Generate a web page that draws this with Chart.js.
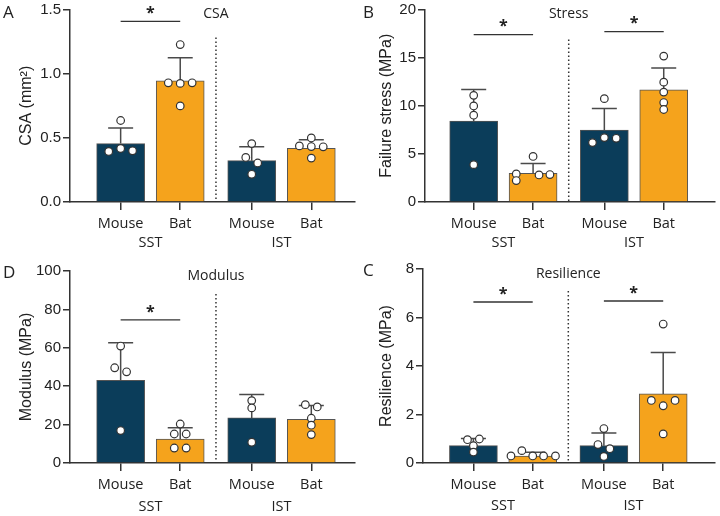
<!DOCTYPE html>
<html>
<head>
<meta charset="utf-8">
<script src="https://cdn.jsdelivr.net/npm/chart.js@4.4.0/dist/chart.umd.min.js"></script>
<style>
html, body { margin: 0; padding: 0; background: #fff; }
#wrap { position: relative; width: 720px; height: 516px; }
.panel { position: absolute; width: 360px; height: 258px; }
</style>
</head>
<body>
<div id="wrap">
  <div class="panel" style="left:0;top:0"><canvas id="cA" width="360" height="258"></canvas></div>
  <div class="panel" style="left:360px;top:0"><canvas id="cB" width="360" height="258"></canvas></div>
  <div class="panel" style="left:0;top:258px"><canvas id="cD" width="360" height="258"></canvas></div>
  <div class="panel" style="left:360px;top:258px"><canvas id="cC" width="360" height="258"></canvas></div>
</div>
<script>
// categories
const groups = ["Mouse", "Bat", "Mouse", "Bat"];
const sites = ["SST", "IST"];
const barColors = ["#0b3d5a", "#f5a31c", "#0b3d5a", "#f5a31c"];

// A: cross-sectional area (mm²)
const csaMean = [0.455, 0.944, 0.322, 0.419];
const csaSd = [0.121, 0.180, 0.108, 0.067];
const csaPoints = [
    [0.635, 0.394, 0.417, 0.399],
    [1.227, 0.929, 0.924, 0.929, 0.749],
    [0.455, 0.347, 0.304, 0.216],
    [0.499, 0.437, 0.432, 0.430, 0.342]
];

// B: failure stress (MPa)
const stressMean = [8.40, 2.98, 7.48, 11.66];
const stressSd = [3.30, 1.03, 2.23, 2.27];
const stressPoints = [
    [11.08, 9.98, 9.02, 3.88],
    [4.73, 2.92, 2.23, 2.81, 2.85],
    [10.74, 6.17, 6.69, 6.62],
    [15.16, 12.45, 11.42, 10.33, 9.61]
];

// D: modulus (MPa)
const modMean = [43.1, 12.5, 23.5, 22.8];
const modSd = [19.5, 5.8, 12.2, 7.1];
const modPoints = [
    [60.9, 49.6, 47.5, 16.9],
    [20.3, 15.1, 15.1, 7.8, 7.8],
    [32.5, 28.7, 10.8],
    [30.4, 29.2, 23.3, 19.7, 14.8]
];

// C: resilience (MPa)
const resMean = [0.715, 0.29, 0.715, 2.85];
const resSd = [0.30, 0.15, 0.525, 1.71];
const resPoints = [
    [0.96, 0.99, 0.715, 0.45],
    [0.51, 0.29, 0.29, 0.29, 0.29],
    [1.42, 0.76, 0.59, 0.27],
    [5.73, 2.58, 2.36, 2.58, 1.20]
];

// layout: bar centres on a linear x axis, dot jitter in px
const xPos = [1, 2, 3.2, 4.2];
const sepX = 2.6;
const pxPerUnit = 60;

const panels = [
    {
        id: "cA", letter: "A", title: "CSA", yTitle: "CSA (mm²)",
        mean: csaMean, sd: csaSd, pts: csaPoints, max: 1.5, step: 0.5, dec: 1,
        sig: [[0, 1, 1.408]],
        jit: [[0, -12, 0, 12], [0, -12, 0, 12, 0], [0, -6, 6, 0], [0, -12, 0, 12, 0]],
        area: { left: 70, top: 7, right: 357, bottom: 202 }, xMin: 0.15, xMax: 4.93,
        sepTop: 28, siteGap: 41, letterPos: [3, 13]
    },
    {
        id: "cB", letter: "B", title: "Stress", yTitle: "Failure stress (MPa)",
        mean: stressMean, sd: stressSd, pts: stressPoints, max: 20, step: 5, dec: 0,
        sig: [[0, 1, 17.4], [2, 3, 17.7]],
        jit: [[0, 0, 0, 0], [0, -17, -17, 6, 17], [0, -12, 0, 12], [0, 0, 0, 0, 0]],
        area: { left: 65, top: 7, right: 358, bottom: 202 }, xMin: 0.18, xMax: 5.06,
        sepTop: 30, siteGap: 41, letterPos: [3, 13]
    },
    {
        id: "cD", letter: "D", title: "Modulus", yTitle: "Modulus (MPa)",
        mean: modMean, sd: modSd, pts: modPoints, max: 100, step: 20, dec: 0,
        sig: [[0, 1, 74.5]],
        jit: [[0, -6, 6, 0], [0, -6, 6, -6, 6], [0, 0, 0], [-6, 6, 0, 0, 0]],
        area: { left: 70, top: 13, right: 357, bottom: 205 }, xMin: 0.15, xMax: 4.93,
        sepTop: 23, siteGap: 44, letterPos: [3, 15]
    },
    {
        id: "cC", letter: "C", title: "Resilience", yTitle: "Resilience (MPa)",
        mean: resMean, sd: resSd, pts: resPoints, max: 8, step: 2, dec: 0,
        sig: [[0, 1, 6.64], [2, 3, 6.68]],
        jit: [[-6, 6, 0, 0], [-11, -22, 0, 11, 23], [0, -6, 6, 0], [0, -12, 0, 12, 0]],
        area: { left: 63, top: 11, right: 358, bottom: 205 }, xMin: 0.15, xMax: 5.07,
        sepTop: 22, siteGap: 43, letterPos: [3, 13]
    }
];

const ink = "#222";
const axisCol = "#333";

const decor = {
    id: "decor",
    afterDatasetDraw(chart, args, p) {
        if (args.index !== 1) return;
        const { ctx, scales: { x, y } } = chart;
        ctx.save();
        ctx.strokeStyle = "#4a4a4a";
        ctx.lineWidth = 1.5;
        p.mean.forEach((m, i) => {
            const px = x.getPixelForValue(xPos[i]);
            const y0 = y.getPixelForValue(m);
            const y1 = y.getPixelForValue(m + p.sd[i]);
            ctx.beginPath();
            ctx.moveTo(px, y0);
            ctx.lineTo(px, y1);
            ctx.moveTo(px - 12.5, y1);
            ctx.lineTo(px + 12.5, y1);
            ctx.stroke();
        });
        ctx.restore();
    },
    afterDraw(chart, args, p) {
        const { ctx, chartArea, scales: { x, y } } = chart;
        ctx.save();
        // dotted separator between sites
        const sx = x.getPixelForValue(sepX);
        ctx.strokeStyle = axisCol;
        ctx.lineWidth = 1.5;
        ctx.setLineDash([1.5, 2.5]);
        ctx.beginPath();
        ctx.moveTo(sx, chartArea.top + p.sepTop);
        ctx.lineTo(sx, chartArea.bottom);
        ctx.stroke();
        ctx.setLineDash([]);

        // panel title
        ctx.fillStyle = ink;
        ctx.textAlign = "center";
        ctx.textBaseline = "middle";
        ctx.font = "14px 'Open Sans'";
        ctx.fillText(p.title, sx, chartArea.top + 5);

        // significance brackets
        ctx.lineWidth = 1.3;
        p.sig.forEach(([a, b, v]) => {
            const x0 = x.getPixelForValue(xPos[a]);
            const x1 = x.getPixelForValue(xPos[b]);
            const yy = y.getPixelForValue(v);
            ctx.beginPath();
            ctx.moveTo(x0, yy);
            ctx.lineTo(x1, yy);
            ctx.stroke();
            ctx.font = "bold 16px 'Open Sans'";
            ctx.fillText("*", (x0 + x1) / 2, yy - 8);
        });

        // site labels under the group ticks
        ctx.font = "14.5px 'Open Sans'";
        sites.forEach((s, k) => {
            const cx = (x.getPixelForValue(xPos[2 * k]) + x.getPixelForValue(xPos[2 * k + 1])) / 2;
            ctx.fillText(s, cx, chartArea.bottom + p.siteGap);
        });

        // panel letter
        ctx.font = "17px 'Open Sans'";
        ctx.textAlign = "left";
        ctx.fillText(p.letter, p.letterPos[0], p.letterPos[1]);
        ctx.restore();
    }
};

panels.forEach(p => {
    const dots = [];
    p.pts.forEach((vals, g) => {
        vals.forEach((v, k) => {
            dots.push({ x: xPos[g] + p.jit[g][k] / pxPerUnit, y: v });
        });
    });

    new Chart(p.id, {
        type: "bar",
        data: {
            datasets: [
                {
                    type: "scatter",
                    data: dots,
                    pointRadius: 3.8,
                    pointBackgroundColor: "#fff",
                    pointBorderColor: "#333",
                    pointBorderWidth: 1.2
                },
                {
                    data: p.mean.map((m, i) => ({ x: xPos[i], y: m })),
                    backgroundColor: barColors,
                    borderColor: "#555",
                    borderWidth: 1,
                    barThickness: 48,
                    grouped: false
                }
            ]
        },
        options: {
            responsive: false,
            animation: false,
            devicePixelRatio: 1,
            layout: {
                padding: { left: 0, top: p.area.top, right: 360 - p.area.right, bottom: 0 }
            },
            plugins: {
                legend: { display: false },
                tooltip: { enabled: false },
                decor: p
            },
            scales: {
                x: {
                    type: "linear",
                    min: p.xMin,
                    max: p.xMax,
                    offset: false,
                    afterBuildTicks: s => { s.ticks = xPos.map(v => ({ value: v })); },
                    afterFit: s => { s.height = 258 - p.area.bottom; },
                    grid: { offset: false, drawOnChartArea: false, tickLength: 8, color: axisCol, lineWidth: 1.5 },
                    border: { color: axisCol, width: 1.5 },
                    ticks: {
                        autoSkip: false,
                        maxRotation: 0,
                        padding: 5,
                        color: ink,
                        font: { family: "'Open Sans'", size: 14.5 },
                        callback: (v, i) => groups[i]
                    }
                },
                y: {
                    min: 0,
                    max: p.max,
                    afterFit: s => { s.width = p.area.left; },
                    grid: { drawOnChartArea: false, tickLength: 7, color: axisCol, lineWidth: 1.5 },
                    border: { color: axisCol, width: 1.5 },
                    ticks: {
                        stepSize: p.step,
                        padding: 2,
                        color: ink,
                        font: { family: "'Liberation Sans'", size: 15, lineHeight: 1 },
                        callback: v => v.toFixed(p.dec)
                    },
                    title: {
                        display: true,
                        text: p.yTitle,
                        color: ink,
                        font: { family: "'Liberation Sans'", size: 16 },
                        padding: { top: 17, bottom: 0 }
                    }
                }
            }
        },
        plugins: [decor]
    });
});
</script>
</body>
</html>
